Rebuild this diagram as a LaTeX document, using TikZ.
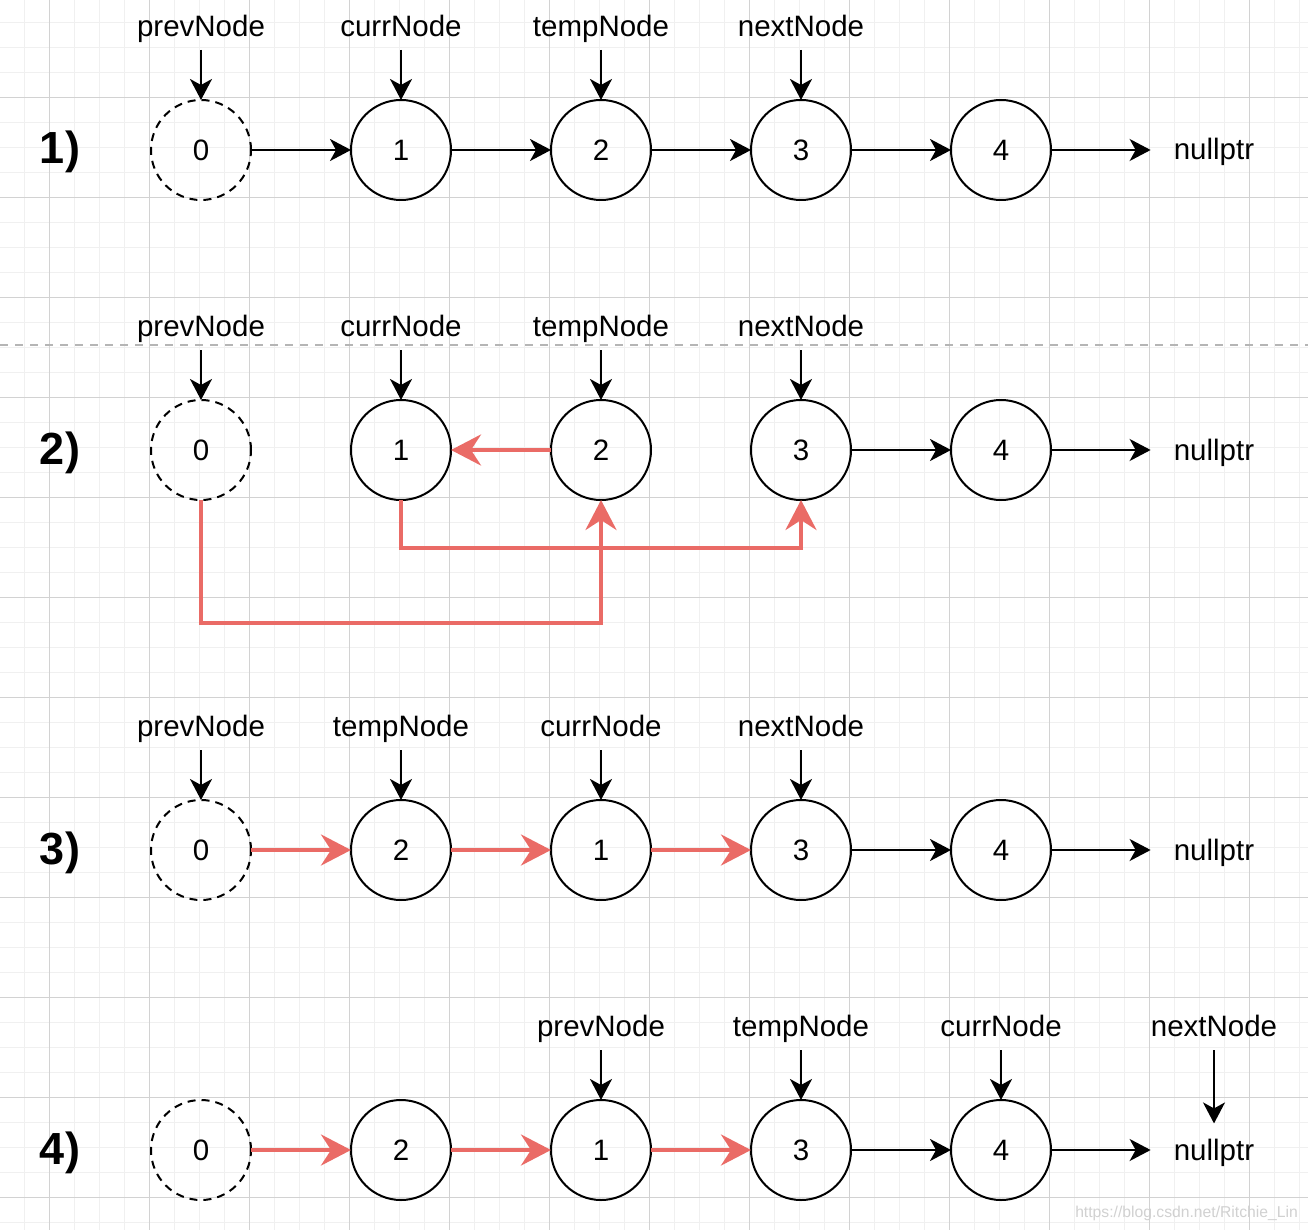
\documentclass[tikz,border=0pt]{standalone}
\usepackage{fontspec}
\setmainfont{Liberation Sans}
\usetikzlibrary{arrows.meta}
\definecolor{redc}{HTML}{EA6B66}
\definecolor{gridminor}{HTML}{F0F0F0}
\definecolor{gridmajor}{HTML}{D2D2D2}
\definecolor{sepgray}{HTML}{B5B5B5}
\begin{document}
\begin{tikzpicture}[x=1pt,y=-1pt,
  every node/.style={font=\fontsize{29.5}{33}\selectfont},
  nd/.style={circle, draw, line width=2pt, minimum size=100pt, inner sep=0pt, outer sep=0pt},
  ghost/.style={nd, dash pattern=on 8pt off 6pt},
  lbl/.style={anchor=south, inner sep=0pt, text depth=13pt},
  nul/.style={anchor=base, inner xsep=23pt, inner ysep=15pt},
  rowlab/.style={anchor=base, inner sep=0pt, font=\fontsize{45}{50}\selectfont\bfseries},
  blk/.style={line width=2.2pt, -{Stealth[length=21pt,width=22pt,inset=6pt]}},
  redarr/.style={draw=redc, line width=4pt, -{Stealth[length=30pt,width=31pt,inset=10pt]}},
]
\useasboundingbox (0,0) rectangle (1308,1230);
\fill[white] (0,0) rectangle (1308,1230);
% grid
\foreach \i in {0,...,53} {\draw[gridminor, line width=1.6pt] (\i*25-0.5,0) -- (\i*25-0.5,1230);}
\foreach \i in {0,...,50} {\draw[gridminor, line width=1.6pt] (0,\i*25-2.5) -- (1308,\i*25-2.5);}
\foreach \i in {0,...,12} {\draw[gridmajor, line width=1pt] (\i*100+49.5,0) -- (\i*100+49.5,1230);}
\foreach \i in {0,...,11} {\draw[gridmajor, line width=1pt] (0,\i*100+97.5) -- (1308,\i*100+97.5);}
% separator
\coordinate (sepL) at (0,345);
\coordinate (sepR) at (1308,345);
\draw[sepgray, line width=2pt, dash pattern=on 8pt off 7pt] (sepL) -- (sepR);

% ---------- Row 1 ----------
\node[rowlab] (r1) at (60,164) {1)};
\node[ghost] (a0) at (201,150) {0};
\node[nd] (a1) at (401,150) {1};
\node[nd] (a2) at (601,150) {2};
\node[nd] (a3) at (801,150) {3};
\node[nd] (a4) at (1001,150) {4};
\node[nul] (an) at (1214,160) {nullptr};
\node[lbl] (ap) at (201,50) {prevNode};
\node[lbl] (ac) at (401,50) {currNode};
\node[lbl] (at) at (601,50) {tempNode};
\node[lbl] (ax) at (801,50) {nextNode};
\draw[blk] (ap.south) -- (a0.north);
\draw[blk] (ac.south) -- (a1.north);
\draw[blk] (at.south) -- (a2.north);
\draw[blk] (ax.south) -- (a3.north);
\draw[blk] (a0) -- (a1);
\draw[blk] (a1) -- (a2);
\draw[blk] (a2) -- (a3);
\draw[blk] (a3) -- (a4);
\draw[blk] (a4.east) -- (a4.east -| an.west);

% ---------- Row 2 ----------
\node[rowlab] (r2) at (60,464) {2)};
\node[ghost] (b0) at (201,450) {0};
\node[nd] (b1) at (401,450) {1};
\node[nd] (b2) at (601,450) {2};
\node[nd] (b3) at (801,450) {3};
\node[nd] (b4) at (1001,450) {4};
\node[nul] (bn) at (1214,460) {nullptr};
\node[lbl] (bp) at (201,350) {prevNode};
\node[lbl] (bc) at (401,350) {currNode};
\node[lbl] (bt) at (601,350) {tempNode};
\node[lbl] (bx) at (801,350) {nextNode};
\draw[blk] (bp.south) -- (b0.north);
\draw[blk] (bc.south) -- (b1.north);
\draw[blk] (bt.south) -- (b2.north);
\draw[blk] (bx.south) -- (b3.north);
\draw[redarr] (b0.south) -- ++(0,123) -| (b2.south);
\draw[redarr] (b1.south) -- ++(0,48) -| (b3.south);
\draw[redarr] (b2) -- (b1);
\draw[blk] (b3) -- (b4);
\draw[blk] (b4.east) -- (b4.east -| bn.west);

% ---------- Row 3 ----------
\node[rowlab] (r3) at (60,864) {3)};
\node[ghost] (c0) at (201,850) {0};
\node[nd] (c2) at (401,850) {2};
\node[nd] (c1) at (601,850) {1};
\node[nd] (c3) at (801,850) {3};
\node[nd] (c4) at (1001,850) {4};
\node[nul] (cn) at (1214,860) {nullptr};
\node[lbl] (cp) at (201,750) {prevNode};
\node[lbl] (ct) at (401,750) {tempNode};
\node[lbl] (cc) at (601,750) {currNode};
\node[lbl] (cx) at (801,750) {nextNode};
\draw[blk] (cp.south) -- (c0.north);
\draw[blk] (ct.south) -- (c2.north);
\draw[blk] (cc.south) -- (c1.north);
\draw[blk] (cx.south) -- (c3.north);
\draw[redarr] (c0) -- (c2);
\draw[redarr] (c2) -- (c1);
\draw[redarr] (c1) -- (c3);
\draw[blk] (c3) -- (c4);
\draw[blk] (c4.east) -- (c4.east -| cn.west);

% ---------- Row 4 ----------
\node[rowlab] (r4) at (60,1164) {4)};
\node[ghost] (d0) at (201,1150) {0};
\node[nd] (d2) at (401,1150) {2};
\node[nd] (d1) at (601,1150) {1};
\node[nd] (d3) at (801,1150) {3};
\node[nd] (d4) at (1001,1150) {4};
\node[nul] (dn) at (1214,1160) {nullptr};
\node[lbl] (dp) at (601,1050) {prevNode};
\node[lbl] (dt) at (801,1050) {tempNode};
\node[lbl] (dc) at (1001,1050) {currNode};
\node[lbl] (dx) at (1214,1050) {nextNode};
\draw[blk] (dp.south) -- (d1.north);
\draw[blk] (dt.south) -- (d3.north);
\draw[blk] (dc.south) -- (d4.north);
\draw[blk] (dx.south) -- (dx.south |- dn.north);
\draw[redarr] (d0) -- (d2);
\draw[redarr] (d2) -- (d1);
\draw[redarr] (d1) -- (d3);
\draw[blk] (d3) -- (d4);
\draw[blk] (d4.east) -- (d4.east -| dn.west);

% watermark
\node[anchor=base east, inner sep=0pt, text=black!18, font=\fontsize{15.7}{18}\selectfont] (wm) at (1298,1217) {https://blog.csdn.net/Ritchie\_Lin};
\end{tikzpicture}
\end{document}
